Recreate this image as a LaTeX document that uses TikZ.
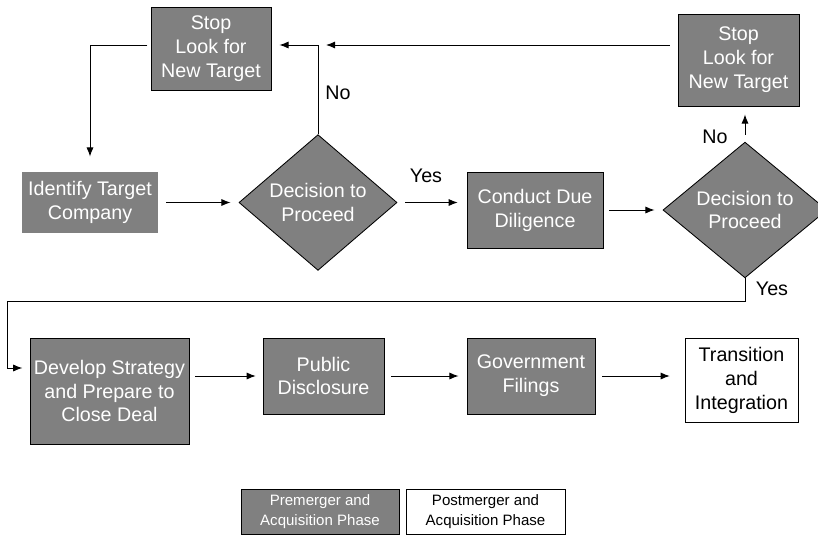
\documentclass[tikz,border=0pt]{standalone}
\usepackage{fontspec}
\setmainfont{Liberation Sans}
\usetikzlibrary{shapes.geometric,arrows.meta,positioning}
\definecolor{boxgray}{RGB}{128,128,128}

\begin{document}
\begin{tikzpicture}[x=0.025cm,y=-0.025cm,
        every node/.style={font=\fontsize{14}{17}\selectfont, align=center, inner sep=0pt},
        pre/.style={draw=black, line width=0.6pt, fill=boxgray, text=white},
        post/.style={draw=black, line width=0.6pt, fill=white, text=black},
        decision/.style={pre, diamond},
        legend/.style={font=\fontsize{10.7}{13.7}\selectfont, minimum height=1.125cm},
        lbl/.style={anchor=base, text=black},
        arr/.style={line width=0.7pt, -{Latex[length=2.3mm,width=1.8mm]}}]
        \useasboundingbox (0,0) rectangle (818,535);

        % first row
        \node[pre] (stopA) at (211,48.5) [minimum width=3cm, minimum height=2.075cm] {Stop\\Look for\\New Target};
        \node[pre, draw=none] (ident) at (90,202.5) [minimum width=3.4cm, minimum height=1.525cm] {Identify Target\\Company};
        \node[decision] (decA) at (318,202.5) [minimum width=3.95cm, minimum height=3.375cm] {Decision to\\Proceed};
        \node[pre] (due) at (535,210) [minimum width=3.4cm, minimum height=1.9cm] {Conduct Due\\Diligence};
        \node[decision] (decB) at (745,210) [minimum width=4.1cm, minimum height=3cm] {Decision to\\Proceed};
        \node[pre] (stopB) at (738.5,60) [minimum width=3.025cm, minimum height=2.3cm] {Stop\\Look for\\New Target};

        % second row
        \node[pre] (devel) at (109.5,391) [minimum width=3.975cm, minimum height=2.65cm] {Develop Strategy\\and Prepare to\\Close Deal};
        \node[pre] (public) at (323.5,376) [minimum width=3.025cm, minimum height=1.9cm] {Public\\Disclosure};
        \node[pre] (gov) at (531,376) [minimum width=3.2cm, minimum height=1.9cm] {Government\\Filings};
        \node[post] (trans) at (741.5,380) [minimum width=2.825cm, minimum height=2.1cm] {Transition\\and\\Integration};

        % legend
        \node[pre, legend] (legPre) at (320,511.5) [minimum width=3.95cm] {Premerger and\\Acquisition Phase};
        \node[post, legend] (legPost) at (485.5,511.5) [minimum width=3.975cm] {Postmerger and\\Acquisition Phase};

        % labels
        \node[lbl] (noA) at (338,99) {No};
        \node[lbl] (yesA) at (426,182) {Yes};
        \node[lbl] (noB) at (715,143) {No};
        \node[lbl] (yesB) at (772,295) {Yes};

        % connectors
        \coordinate (top) at (0,45);
        \coordinate (loop) at (7,301);
        \draw[arr, shorten <=0.08cm, shorten >=0.375cm] (stopA.west |- top) -| (ident.north);
        \draw[arr, shorten <=0.2cm, shorten >=0.2cm] (ident) -- (decA);
        \draw[arr, shorten >=0.2cm] (decA.north) |- (stopA.east |- top);
        \draw[arr, shorten <=0.2cm, shorten >=0.2cm] (stopB.west |- top) -- (decA.north |- top);
        \draw[arr, shorten <=0.2cm, shorten >=0.22cm] (decA.east) -- (decA.east -| due.west);
        \draw[arr, shorten <=0.15cm, shorten >=0.2cm] (due) -- (decB);
        \draw[arr, shorten <=0.18cm, shorten >=0.2cm] (decB.north) -- (stopB.south -| decB.north);
        \draw[arr, shorten >=0.18cm] (decB.south) |- (loop) |- ([yshift=0.575cm]devel.west);
        \draw[arr, shorten <=0.15cm, shorten >=0.17cm] (devel.east |- public) -- (public);
        \draw[arr, shorten <=0.17cm, shorten >=0.2cm] (public) -- (gov);
        \draw[arr, shorten <=0.17cm, shorten >=0.37cm] (gov) -- (trans.west |- gov);
\end{tikzpicture}
\end{document}
